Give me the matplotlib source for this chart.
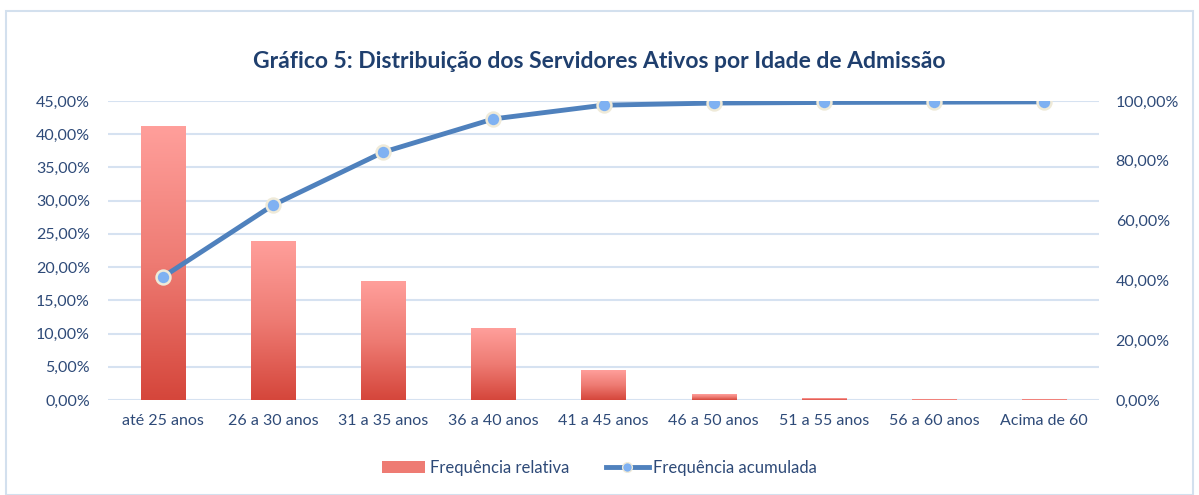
import numpy as np
import matplotlib
matplotlib.use("Agg")
import matplotlib.pyplot as plt
from matplotlib.ticker import FuncFormatter, MultipleLocator
from matplotlib.colors import LinearSegmentedColormap
from matplotlib.patches import Patch, Rectangle
from matplotlib.lines import Line2D

categories = ["até 25 anos", "26 a 30 anos", "31 a 35 anos", "36 a 40 anos",
              "41 a 45 anos", "46 a 50 anos", "51 a 55 anos", "56 a 60 anos", "Acima de 60"]
freq_relativa = [41.2, 23.9, 17.8, 10.8, 4.5, 0.9, 0.3, 0.05, 0.1]
freq_acumulada = [41.2, 65.2, 82.9, 94.0, 98.6, 99.3, 99.5, 99.6, 99.7]
title = "Gráfico 5: Distribuição dos Servidores Ativos por Idade de Admissão"

plt.rcParams['font.family'] = ['Lato', 'DejaVu Sans']
txt_color = "#2E4A78"
grid_color = "#D6E2F1"

fig = plt.figure(figsize=(11.99, 4.95), dpi=100)
fig.patches.append(Rectangle((0.005, 0.0), 0.99, 0.978, transform=fig.transFigure,
                             fill=False, edgecolor="#D3E0EE", linewidth=1.5))
ax = fig.add_axes([0.0901, 0.1919, 0.8265, 0.6041])
x = np.arange(len(categories))
w = 0.4
bars = ax.bar(x, freq_relativa, width=w, color="none", zorder=2)
cmap = LinearSegmentedColormap.from_list("g", ["#D5463B", "#EE7B73", "#FF9F9B"])
grad = np.linspace(0, 1, 256).reshape(-1, 1)
for b in bars:
    x0, y0 = b.get_x(), b.get_y()
    bw, bh = b.get_width(), b.get_height()
    if bh <= 0:
        continue
    ax.imshow(grad, extent=[x0, x0 + bw, y0, y0 + bh], origin="lower",
              cmap=cmap, aspect="auto", zorder=2)
ax.set_xlim(-0.5, len(categories) - 0.5)
ax.set_ylim(0, 45)
ax.yaxis.set_major_locator(MultipleLocator(5))
ax.yaxis.set_major_formatter(FuncFormatter(lambda v, p: f"{v:.2f}%".replace(".", ",")))
ax.set_xticks(x)
ax.set_xticklabels(categories)
ax.grid(axis="y", color=grid_color, linewidth=1.5, zorder=0)
ax.set_axisbelow(True)
for s in ax.spines.values():
    s.set_visible(False)
ax.tick_params(axis="both", length=0, labelsize=11.5, colors=txt_color)
ax.tick_params(axis="y", pad=13)
ax.tick_params(axis="x", pad=10)

ax2 = ax.twinx()
ax2.plot(x, freq_acumulada, color="#4F81BD", linewidth=3.5, marker="o", markersize=10,
         markerfacecolor="#7FB1F2", markeredgecolor="#EFEAD8", markeredgewidth=1.8, zorder=3)
ax2.set_ylim(0, 100)
ax2.yaxis.set_major_locator(MultipleLocator(20))
ax2.yaxis.set_major_formatter(FuncFormatter(lambda v, p: f"{v:.2f}%".replace(".", ",")))
for s in ax2.spines.values():
    s.set_visible(False)
ax2.tick_params(axis="y", length=0, labelsize=11.5, colors=txt_color, pad=12)

fig.text(0.5, 0.875, title, ha="center", va="center", fontsize=16.5,
         fontweight="bold", color="#1F3F6E")

handles = [Patch(facecolor="#EE7B73", edgecolor="none"),
           Line2D([0], [0], color="#4F81BD", linewidth=3.5, marker="o", markersize=7,
                  markerfacecolor="#7FB1F2", markeredgecolor="#EFEAD8")]
leg = fig.legend(handles, ["Frequência relativa", "Frequência acumulada"],
                 loc="center", bbox_to_anchor=(0.5, 0.055), ncol=2, frameon=False,
                 fontsize=12, handlelength=2.6, columnspacing=2.2, handletextpad=0.25)
for t in leg.get_texts():
    t.set_color(txt_color)

fig.savefig("out.png", dpi=100)
